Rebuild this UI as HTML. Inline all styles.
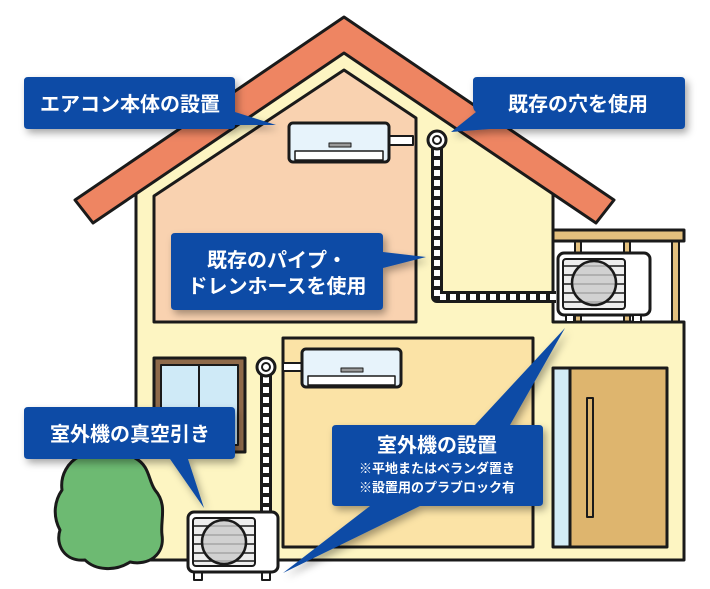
<!DOCTYPE html>
<html><head><meta charset="utf-8"><style>
html,body{margin:0;padding:0;background:#fff;width:710px;height:589px;overflow:hidden}
svg{display:block}
text{font-family:"Liberation Sans","Noto Sans CJK JP",sans-serif;font-weight:bold;fill:#fff}
</style></head><body>
<svg width="710" height="589" viewBox="0 0 710 589" xmlns="http://www.w3.org/2000/svg">
<defs>
<filter id="sh" x="-20%" y="-20%" width="150%" height="160%"><feDropShadow dx="3" dy="4" stdDeviation="4" flood-color="#000" flood-opacity="0.35"/></filter>
</defs>
<g stroke="#1a1a1a" stroke-width="3" stroke-linejoin="round">
<!-- house body -->
<polygon points="136,560 136,188 344,45 553,188 553,322 684,322 684,560" fill="#fdf5c2"/>
<!-- pink room -->
<polygon points="154,196 344,70 416,118 416,322 154,322" fill="#f9d2b0"/>
<!-- roof -->
<polygon points="344,17 614,200 596,223 344,53 93,223 75,200" fill="#ee8562"/>
<!-- balcony -->
<rect x="575" y="241" width="6" height="81" fill="#e3c07e" stroke-width="2"/>
<rect x="624" y="241" width="6" height="81" fill="#e3c07e" stroke-width="2"/>
<rect x="672" y="241" width="7" height="81" fill="#e3c07e" stroke-width="2"/>
<rect x="553" y="230" width="131" height="11" fill="#e3c07e"/>
<line x1="553" y1="322" x2="684" y2="322"/>
<!-- balcony outdoor unit -->
<rect x="558" y="253" width="92" height="62" rx="6" fill="#fff"/>
<rect x="563" y="259" width="62" height="50" rx="3" fill="#eee" stroke-width="2"/>
<g stroke-width="1.5"><line x1="563" y1="266" x2="625" y2="266"/><line x1="563" y1="275" x2="625" y2="275"/><line x1="563" y1="284" x2="625" y2="284"/><line x1="563" y1="293" x2="625" y2="293"/><line x1="563" y1="302" x2="625" y2="302"/></g>
<circle cx="594" cy="283" r="22" fill="#c9c9c9" fill-opacity="0.8" stroke-width="2.5"/>
<rect x="566" y="315" width="8" height="7" fill="#fff" stroke-width="2"/><rect x="633" y="315" width="8" height="7" fill="#fff" stroke-width="2"/>
<!-- upper AC -->
<rect x="389" y="136" width="24" height="9" fill="#fff" stroke-width="2"/>
<rect x="289" y="123" width="100" height="39" rx="4" fill="#e7f3fb"/>
<rect x="295" y="151" width="88" height="9" fill="#fff" stroke-width="1.5"/>
<rect x="329" y="143" width="22" height="4" fill="#999" stroke-width="1"/>
<!-- upper pipe -->
<path d="M437,140 V297 H556" fill="none" stroke="#1a1a1a" stroke-width="12"/>
<path d="M437,140 V297 H556" fill="none" stroke="#fff" stroke-width="6" stroke-dasharray="6 4"/>
<circle cx="437" cy="140" r="9" fill="#fff"/><circle cx="437" cy="140" r="4" fill="#fff" stroke-width="2"/>
<!-- lower room -->
<rect x="283" y="338" width="250" height="209" fill="#fbe3a6"/>
<!-- window -->
<rect x="154" y="358" width="91" height="94" fill="#8f6a4a"/>
<rect x="161" y="365" width="77" height="80" fill="#cfeaf7" stroke-width="2"/>
<line x1="199" y1="365" x2="199" y2="445" stroke-width="2"/>
<!-- door -->
<rect x="553" y="368" width="17" height="179" fill="#d3ecf6"/>
<rect x="570" y="368" width="97" height="179" fill="#deb56e"/>
<rect x="587" y="398" width="6" height="119" fill="#deb56e" stroke-width="2"/>
<!-- lower AC -->
<rect x="283" y="363" width="19" height="8" fill="#fff" stroke-width="2"/>
<rect x="302" y="349" width="99" height="38" rx="4" fill="#e7f3fb"/>
<rect x="308" y="376" width="87" height="9" fill="#fff" stroke-width="1.5"/>
<rect x="341" y="368" width="22" height="4" fill="#999" stroke-width="1"/>
<!-- lower pipe -->
<path d="M266,367 V514" fill="none" stroke="#1a1a1a" stroke-width="12"/>
<path d="M266,367 V514" fill="none" stroke="#fff" stroke-width="6" stroke-dasharray="6 4"/>
<circle cx="266" cy="367" r="9" fill="#fff"/><circle cx="266" cy="367" r="4" fill="#fff" stroke-width="2"/>
<!-- tree -->
<path d="M80,456 C95,448 120,448 135,458 C150,466 148,480 155,490 C168,505 160,520 162,535 C165,555 148,566 130,562 C115,572 95,570 85,560 C65,562 55,545 60,530 C52,515 55,500 62,490 C60,475 68,462 80,456 Z" fill="#6dba72"/>
<!-- lower outdoor unit -->
<rect x="194" y="572" width="8" height="8" fill="#fff" stroke-width="2"/><rect x="262" y="572" width="8" height="8" fill="#fff" stroke-width="2"/>
<rect x="188" y="512" width="90" height="60" rx="6" fill="#fff"/>
<rect x="193" y="518" width="62" height="48" rx="3" fill="#eee" stroke-width="2"/>
<g stroke-width="1.5"><line x1="193" y1="526" x2="255" y2="526"/><line x1="193" y1="535" x2="255" y2="535"/><line x1="193" y1="544" x2="255" y2="544"/><line x1="193" y1="553" x2="255" y2="553"/><line x1="193" y1="561" x2="255" y2="561"/></g>
<circle cx="224" cy="542" r="22" fill="#c9c9c9" fill-opacity="0.8" stroke-width="2.5"/>
</g>
<!-- callouts -->
<g fill="#0a4ba6" filter="url(#sh)">
<path d="M28,77 H231 Q235,77 235,81 V112 L276,125 L235,125 Q235,129 231,129 H28 Q24,129 24,125 V81 Q24,77 28,77 Z"/>
<path d="M477,77 H681 Q685,77 685,81 V125 Q685,129 681,129 H490 L451,132 L476,112 Q473,110 473,105 V81 Q473,77 477,77 Z"/>
<path d="M175,233 H379 Q383,233 383,237 V252 L426,257 L383,268 V306 Q383,310 379,310 H175 Q171,310 171,306 V237 Q171,233 175,233 Z"/>
<path d="M28,407 H231 Q235,407 235,411 V455 Q235,459 231,459 H188 L204,508 L170,459 H28 Q24,459 24,455 V411 Q24,407 28,407 Z"/>
<path d="M336,425 H475 L565,328 L510,425 H539 Q543,425 543,429 V502 Q543,506 539,506 H420 L283,573 L370,506 H336 Q332,506 332,502 V429 Q332,425 336,425 Z"/>
</g>
<text x="130" y="111" font-size="20" text-anchor="middle">エアコン本体の設置</text>
<text x="578" y="111" font-size="20" text-anchor="middle">既存の穴を使用</text>
<text x="277" y="267" font-size="20" text-anchor="middle">既存のパイプ・</text>
<text x="277" y="293" font-size="20" text-anchor="middle">ドレンホースを使用</text>
<text x="130" y="441" font-size="20" text-anchor="middle">室外機の真空引き</text>
<text x="437" y="452" font-size="20" text-anchor="middle">室外機の設置</text>
<text x="437" y="473" font-size="13" text-anchor="middle">※平地またはベランダ置き</text>
<text x="437" y="492" font-size="13" text-anchor="middle">※設置用のプラブロック有</text>
</svg>
</body></html>
